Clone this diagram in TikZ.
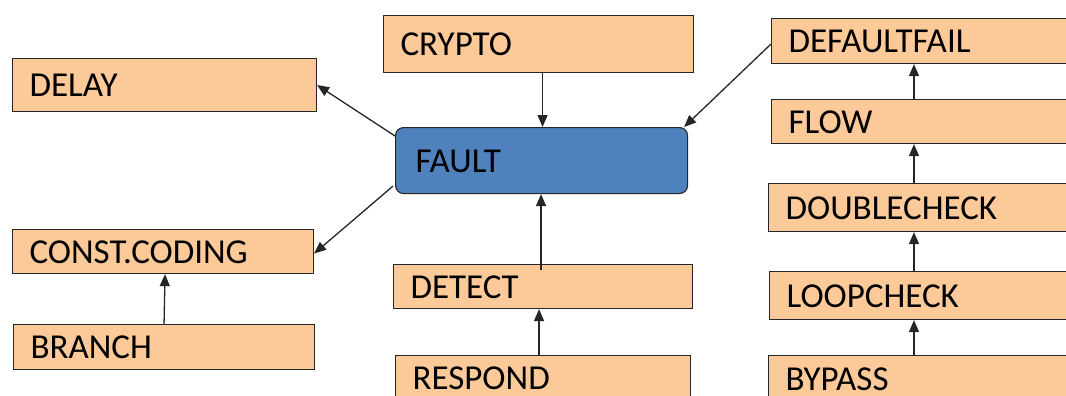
\documentclass[tikz,border=0pt]{standalone}
\usepackage{fontspec}
\setmainfont{Carlito}
\usetikzlibrary{arrows.meta}
\definecolor{peach}{RGB}{252,202,152}
\definecolor{faultblue}{RGB}{79,129,189}
\begin{document}
\begin{tikzpicture}[x=1pt,y=-1pt,
  bx/.style 2 args={draw=black!85, line width=1.1pt, fill=peach, anchor=north west,
    text width=#1pt-34pt, inner xsep=17pt, inner ysep=0pt, minimum height=#2pt,
    text height=23pt, text depth=0pt, align=left,
    font=\fontsize{35}{40}\selectfont},
  arr/.style={draw=black!85, line width=1.3pt, -{Triangle[length=12pt,width=10pt]}}]
\useasboundingbox (0,0) rectangle (1066,396);
\node[bx={304}{53}] (delay) at (12,58) {DELAY};
\node[bx={310}{57}] (crypto) at (383,15) {CRYPTO};
\node[bx={292}{66}, fill=faultblue, rounded corners=8pt, inner xsep=20pt, text width=252pt] (fault) at (395,127) {FAULT};
\node[bx={310}{45}] (defaultfail) at (771,18) {DEFAULTFAIL};
\node[bx={310}{44}] (flow) at (771,99) {FLOW};
\node[bx={310}{48}] (doublecheck) at (768,183) {DOUBLECHECK};
\node[bx={310}{48}] (loopcheck) at (769,271) {LOOPCHECK};
\node[bx={310}{47}] (bypass) at (768,355) {BYPASS};
\node[bx={301}{44}] (const) at (12,229) {CONST.CODING};
\node[bx={301}{45}] (branch) at (13,324) {BRANCH};
\node[bx={299}{44}] (detect) at (393,264) {DETECT};
\node[bx={295}{45}] (respond) at (395,355) {RESPOND};
\coordinate (rx) at (914,0);
% connectors
\draw[arr] ([yshift=-9pt]fault.north west) -- (delay.east);
\draw[arr] ([xshift=-2pt,yshift=8pt]fault.south west) -- ([yshift=-2pt]const.east);
\draw[arr] ([xshift=4pt]crypto.south) -- ([xshift=4pt]crypto.south |- fault.north);
\draw[arr] ([yshift=-3pt]defaultfail.west) -- ([xshift=-4pt]fault.north east);
\draw[arr] ([xshift=-2pt,yshift=-6pt]detect.north) -- ([xshift=-2pt]detect.north |- fault.south);
\draw[arr] ([xshift=-4pt]respond.north) -- ([xshift=-4pt]respond.north |- detect.south);
\draw[arr] (branch.north) -- ([xshift=2pt]const.south);
\draw[arr] (flow.north -| rx) -- (defaultfail.south -| rx);
\draw[arr] (doublecheck.north -| rx) -- (flow.south -| rx);
\draw[arr] (loopcheck.north -| rx) -- (doublecheck.south -| rx);
\draw[arr] (bypass.north -| rx) -- (loopcheck.south -| rx);
\end{tikzpicture}
\end{document}
